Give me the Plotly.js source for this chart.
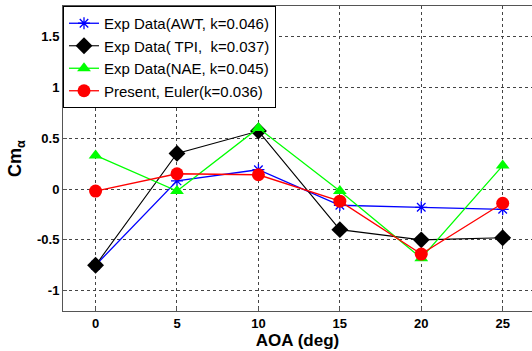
<!DOCTYPE html>
<html><head><meta charset="utf-8">
<script src="https://cdn.plot.ly/plotly-3.0.1.min.js"></script>
<style>body{margin:0;background:#fff}#c{width:532px;height:351px}</style>
</head><body><div id="c"></div>
<script>
const aoa = [0, 5, 10, 15, 20, 25];
const awt = [-0.75, 0.08, 0.19, -0.16, -0.18, -0.20];
const tpi = [-0.75, 0.35, 0.57, -0.40, -0.50, -0.48];
const nae = [0.33, -0.02, 0.60, -0.02, -0.68, 0.23];
const euler = [-0.02, 0.15, 0.14, -0.12, -0.64, -0.14];
const names = ['Exp Data(AWT, k=0.046)', 'Exp Data( TPI,  k=0.037)', 'Exp Data(NAE, k=0.045)', 'Present, Euler(k=0.036)'];
const xticks = [0, 5, 10, 15, 20, 25];
const yticks = [-1, -0.5, 0, 0.5, 1, 1.5];
const ytickText = ['-1', '-0.5', '0', '0.5', '1', '1.5'];

const traces = [
  {x: aoa, y: awt, name: names[0], mode: 'lines+markers', line: {color: '#0000ff', width: 1.3},
   marker: {symbol: 'asterisk-open', size: 10, color: '#0000ff', line: {color: '#0000ff', width: 1.3}}},
  {x: aoa, y: tpi, name: names[1], mode: 'lines+markers', line: {color: '#000000', width: 1.1},
   marker: {symbol: 'diamond', size: 13, color: '#000000'}},
  {x: aoa, y: nae, name: names[2], mode: 'lines+markers', line: {color: '#00ff00', width: 1.3},
   marker: {symbol: 'triangle-up', size: 12, color: '#00ff00'}},
  {x: aoa, y: euler, name: names[3], mode: 'lines+markers', line: {color: '#ff0000', width: 1.3},
   marker: {symbol: 'circle', size: 13, color: '#ff0000'}}
];

const layout = {
  width: 532, height: 351,
  margin: {l: 63, r: 0, t: 6, b: 40},
  paper_bgcolor: '#fff', plot_bgcolor: '#fff',
  font: {family: 'Arial, Liberation Sans, sans-serif', color: '#000'},
  showlegend: true,
  legend: {x: 0, y: 1, xanchor: 'left', yanchor: 'top', bgcolor: '#fff', bordercolor: '#000', borderwidth: 1,
    font: {size: 15, family: 'Arial, Liberation Sans, sans-serif'}, tracegroupgap: 0, itemwidth: 30},
  xaxis: {range: [-2, 26.8], tickvals: xticks, ticktext: xticks.map(String), showgrid: true,
    gridcolor: '#444', griddash: 'dot', gridwidth: 1, zeroline: false,
    showline: true, linecolor: '#555', linewidth: 1, mirror: true,
    ticks: 'inside', ticklen: 4, tickcolor: '#555',
    tickfont: {size: 13, family: 'Arial, Liberation Sans, sans-serif', weight: 'bold'},
    title: {text: '<b>AOA (deg)</b>', font: {size: 17}, standoff: 2}},
  yaxis: {range: [-1.2, 1.8], tickvals: yticks, ticktext: ytickText, showgrid: true,
    gridcolor: '#444', griddash: 'dot', gridwidth: 1, zeroline: false,
    showline: true, linecolor: '#555', linewidth: 1, mirror: false,
    ticks: 'inside', ticklen: 4, tickcolor: '#555',
    tickfont: {size: 13, family: 'Arial, Liberation Sans, sans-serif', weight: 'bold'},
    title: {text: '<b>Cm<sub>α</sub></b>', font: {size: 18}, standoff: 10}}
};
Plotly.newPlot('c', traces, layout, {staticPlot: true});
</script></body></html>
